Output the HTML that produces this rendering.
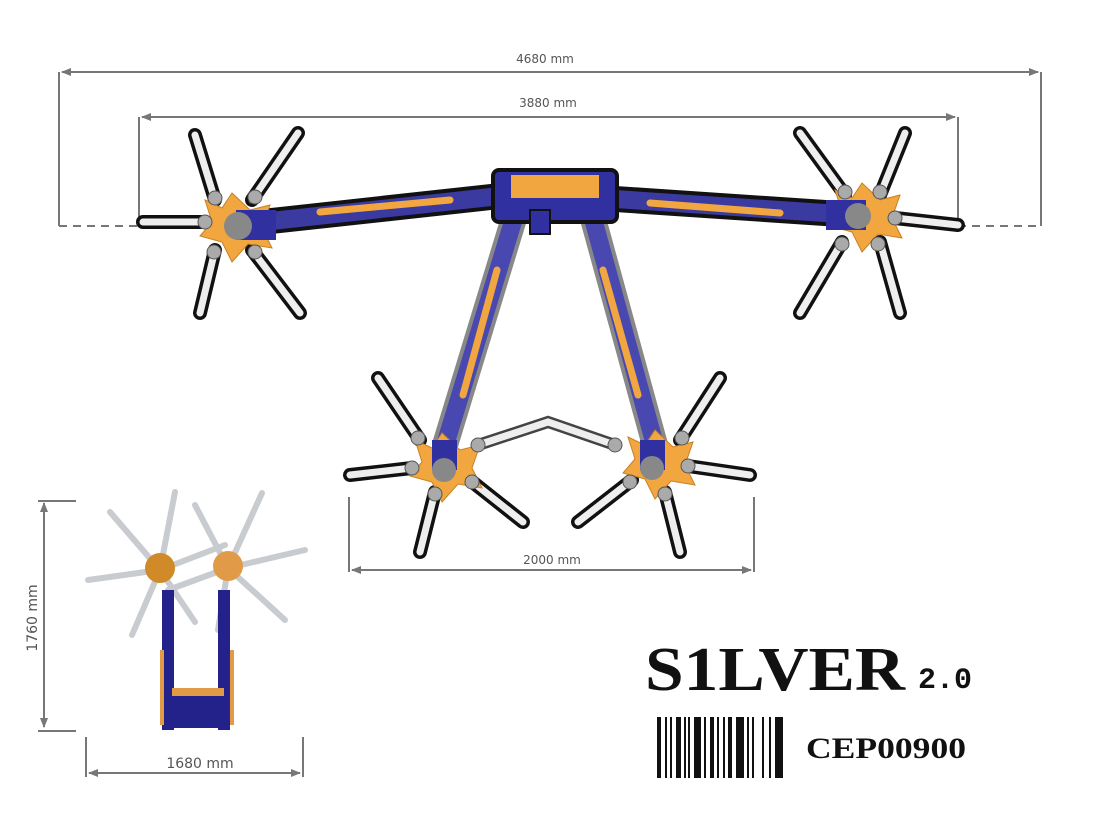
<!DOCTYPE html>
<html><head><meta charset="utf-8"><style>
html,body{margin:0;padding:0;background:#fff;}
svg{display:block}
</style></head><body>
<svg width="1100" height="825" viewBox="0 0 1100 825" xmlns="http://www.w3.org/2000/svg">
<defs>
<marker id="a" markerWidth="10" markerHeight="8" refX="9" refY="4" orient="auto-start-reverse" markerUnits="userSpaceOnUse"><path d="M0,0 L10,4 L0,8 z" fill="#777"/></marker>
</defs>
<g stroke="#777" stroke-width="2" fill="none">
<line x1="62" y1="72" x2="1038" y2="72" marker-start="url(#a)" marker-end="url(#a)"/>
<line x1="59" y1="72" x2="59" y2="226"/><line x1="1041" y1="72" x2="1041" y2="226"/>
<line x1="142" y1="117" x2="955" y2="117" marker-start="url(#a)" marker-end="url(#a)"/>
<line x1="139" y1="117" x2="139" y2="226"/><line x1="958" y1="117" x2="958" y2="226"/>
<line x1="59" y1="226" x2="139" y2="226" stroke-dasharray="8,6"/>
<line x1="958" y1="226" x2="1041" y2="226" stroke-dasharray="8,6"/>
<line x1="352" y1="570" x2="751" y2="570" marker-start="url(#a)" marker-end="url(#a)"/>
<line x1="349" y1="497" x2="349" y2="572"/><line x1="754" y1="497" x2="754" y2="572"/>
<line x1="44" y1="503" x2="44" y2="727" marker-start="url(#a)" marker-end="url(#a)"/>
<line x1="38" y1="501" x2="76" y2="501"/><line x1="38" y1="731" x2="76" y2="731"/>
<line x1="89" y1="773" x2="300" y2="773" marker-start="url(#a)" marker-end="url(#a)"/>
<line x1="86" y1="737" x2="86" y2="777"/><line x1="303" y1="737" x2="303" y2="777"/>
</g>
<g style="font-family:'DejaVu Sans','Liberation Sans',sans-serif;fill:#555">
<text x="545" y="63" font-size="12" text-anchor="middle">4680 mm</text>
<text x="548" y="107" font-size="12" text-anchor="middle">3880 mm</text>
<text x="552" y="564" font-size="12" text-anchor="middle">2000 mm</text>
<text x="200" y="768" font-size="14" text-anchor="middle">1680 mm</text>
<text transform="translate(37,618) rotate(-90)" font-size="14" text-anchor="middle">1760 mm</text>
</g>

<!-- tines -->
<g stroke-linecap="round" fill="none">
<g stroke="#111" stroke-width="14">
<path d="M215,200L195,135M252,200L298,133M205,222L143,222M215,250L200,313M252,250L300,313"/>
<path d="M845,195L800,133M880,195L905,133M895,218L958,225M842,242L800,313M880,242L900,313"/>
<path d="M420,440L378,378M412,468L350,475M435,492L420,552M470,480L523,522"/>
<path d="M680,440L720,378M688,466L750,475M665,492L680,552M632,480L578,522"/>
</g>
<g stroke="#eee" stroke-width="7">
<path d="M215,200L195,135M252,200L298,133M205,222L143,222M215,250L200,313M252,250L300,313"/>
<path d="M845,195L800,133M880,195L905,133M895,218L958,225M842,242L800,313M880,242L900,313"/>
<path d="M420,440L378,378M412,468L350,475M435,492L420,552M470,480L523,522"/>
<path d="M680,440L720,378M688,466L750,475M665,492L680,552M632,480L578,522"/>
</g>
<path d="M478,445L548,422L615,445" stroke="#444" stroke-width="12"/>
<path d="M478,445L548,422L615,445" stroke="#eee" stroke-width="7"/>
</g>

<!-- arms -->
<g stroke-linecap="round" fill="none">
<path d="M262,222L500,196M600,198L840,214" stroke="#111" stroke-width="26"/>
<path d="M262,222L500,196M600,198L840,214" stroke="#3a3aa0" stroke-width="18"/>
<path d="M320,212L450,200M650,203L780,213" stroke="#f2a640" stroke-width="7"/>
<path d="M515,215L445,445M592,215L655,445" stroke="#888" stroke-width="26"/>
<path d="M515,215L445,445M592,215L655,445" stroke="#4848b0" stroke-width="18"/>
<path d="M497,270L463,395M603,270L638,395" stroke="#f2a640" stroke-width="7"/>
</g>
<rect x="493" y="170" width="124" height="52" rx="6" fill="#3030a0" stroke="#111" stroke-width="4"/>
<rect x="511" y="175" width="88" height="23" fill="#f2a640"/>
<rect x="530" y="210" width="20" height="24" fill="#3030a0" stroke="#111" stroke-width="2"/>

<!-- hubs -->
<g fill="#f2a640" stroke="#c88020" stroke-width="1">
<polygon points="232,193 250,210 270,205 262,228 272,248 248,244 232,262 222,242 200,236 212,222 205,200 222,208"/>
<polygon points="862,183 880,200 900,195 892,218 902,238 878,234 862,252 852,232 830,226 842,212 835,190 852,198"/>
<polygon points="442,433 460,450 480,445 472,468 482,488 458,484 442,502 432,482 410,476 422,462 415,440 432,448"/>
<polygon points="655,430 673,447 693,442 685,465 695,485 671,481 655,499 645,479 623,473 635,459 628,437 645,445"/>
</g>
<g fill="#3030a0"><rect x="236" y="210" width="40" height="30"/><rect x="826" y="200" width="40" height="30"/><rect x="432" y="440" width="25" height="30"/><rect x="640" y="440" width="25" height="30"/></g>
<g fill="#888"><circle cx="238" cy="226" r="14"/><circle cx="858" cy="216" r="13"/><circle cx="444" cy="470" r="12"/><circle cx="652" cy="468" r="12"/></g>
<g fill="#aaa" stroke="#555" stroke-width="1">
<circle cx="215" cy="198" r="7"/><circle cx="255" cy="197" r="7"/><circle cx="205" cy="222" r="7"/><circle cx="214" cy="252" r="7"/><circle cx="255" cy="252" r="7"/>
<circle cx="845" cy="192" r="7"/><circle cx="880" cy="192" r="7"/><circle cx="895" cy="218" r="7"/><circle cx="842" cy="244" r="7"/><circle cx="878" cy="244" r="7"/>
<circle cx="418" cy="438" r="7"/><circle cx="412" cy="468" r="7"/><circle cx="435" cy="494" r="7"/><circle cx="472" cy="482" r="7"/><circle cx="478" cy="445" r="7"/>
<circle cx="682" cy="438" r="7"/><circle cx="688" cy="466" r="7"/><circle cx="665" cy="494" r="7"/><circle cx="630" cy="482" r="7"/><circle cx="615" cy="445" r="7"/>
</g>

<!-- side view -->
<g stroke-linecap="round" fill="none" stroke="#c8ccd0" stroke-width="6">
<path d="M160,570L110,512M160,570L175,492M160,570L225,545M160,570L88,580M160,570L132,635M160,570L195,622"/>
<path d="M228,568L195,505M228,568L262,493M228,568L305,550M228,568L168,590M228,568L218,630M228,568L285,620"/>
</g>
<circle cx="160" cy="568" r="15" fill="#d08a28"/><circle cx="228" cy="566" r="15" fill="#e09a48"/>
<g fill="#22228a">
<rect x="162" y="590" width="12" height="140"/><rect x="218" y="590" width="12" height="140"/>
<rect x="170" y="690" width="55" height="38"/>
</g>
<rect x="172" y="688" width="52" height="8" fill="#e09a48"/>
<rect x="160" y="650" width="4" height="75" fill="#e09a48"/><rect x="230" y="650" width="4" height="75" fill="#e09a48"/>

<!-- title -->
<text x="645" y="690" style="font-family:'Liberation Serif',serif;font-weight:bold;font-size:62px;fill:#111" textLength="260" lengthAdjust="spacingAndGlyphs">S1LVER</text>
<text x="918" y="688" style="font-family:'Liberation Mono',monospace;font-weight:bold;font-size:30px;fill:#111">2.0</text>
<text x="806" y="758" style="font-family:'Liberation Serif',serif;font-weight:bold;font-size:30px;fill:#111" textLength="160" lengthAdjust="spacingAndGlyphs">CEP00900</text>
<g fill="#111">
<rect x="657" y="717" width="4" height="61"/><rect x="665" y="717" width="2" height="61"/><rect x="670" y="717" width="2" height="61"/>
<rect x="676" y="717" width="5" height="61"/><rect x="684" y="717" width="2" height="61"/><rect x="688" y="717" width="2" height="61"/>
<rect x="694" y="717" width="7" height="61"/><rect x="704" y="717" width="2" height="61"/><rect x="710" y="717" width="4" height="61"/>
<rect x="717" y="717" width="2" height="61"/><rect x="723" y="717" width="2" height="61"/><rect x="728" y="717" width="4" height="61"/>
<rect x="736" y="717" width="8" height="61"/><rect x="747" y="717" width="2" height="61"/><rect x="752" y="717" width="2" height="61"/>
<rect x="762" y="717" width="2" height="61"/><rect x="769" y="717" width="2" height="61"/><rect x="775" y="717" width="8" height="61"/>
</g>
</svg>
</body></html>
